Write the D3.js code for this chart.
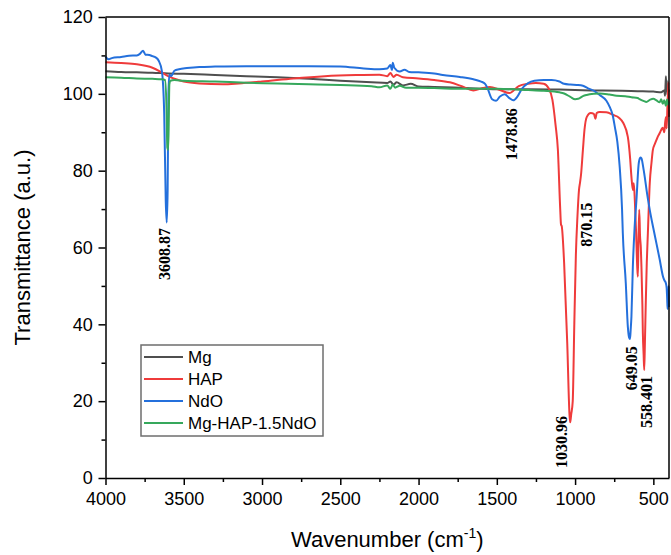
<!DOCTYPE html>
<html><head><meta charset="utf-8">
<script src="https://cdn.jsdelivr.net/npm/d3@7"></script>
<style>
html,body{margin:0;padding:0;background:#fff;}
svg{display:block;}
</style></head>
<body><svg id="chart" width="671" height="555"></svg>
<script>
// ---------- DATA ----------
const seriesNames = ["Mg", "HAP", "NdO", "Mg-HAP-1.5NdO"];
const seriesColors = ["#4f4f4f", "#ef3b3b", "#2470dc", "#36a85c"];

const mgWave = [4000,3900,3800,3700,3600,3500,3300,3100,2900,2700,2500,2300,2200,2180,2160,2140,2100,2050,2000,1900,1700,1500,1300,1100,900,700,600,500,450,430,425,420,417,414,411,408,405,402,400];
const mgT    = [105.9,105.7,105.6,105.5,105.3,105.2,104.9,104.6,104.3,103.9,103.4,103.0,102.8,103.2,102.4,103.0,102.2,102.6,101.9,101.8,101.5,101.2,101.2,101.1,100.9,100.8,100.7,100.6,100.4,100.9,99.5,104.6,101.5,103.5,99.8,101.2,100.5,101.0,100.6];

const hapWave = [4000,3900,3800,3700,3650,3600,3550,3500,3400,3250,3150,3000,2800,2600,2400,2250,2200,2180,2160,2140,2100,2000,1900,1800,1720,1650,1590,1545,1480,1420,1360,1300,1250,1200,1170,1145,1125,1110,1095,1090,1085,1070,1050,1035,1031,1025,1015,1005,995,985,975,968,962,950,940,925,900,880,870,862,843,800,756,720,692,663,648,640,631,625,618,610,603,599,595,590,585,580,576,570,567,562,558.4,554,548,542,535,523,512,503,490,480,470,459,450,440,430,425,419,415,410,406,403,400];
const hapT    = [108.2,108.0,107.7,106.8,105.8,104.6,103.8,103.2,102.7,102.5,102.7,103.2,104.0,104.6,104.9,105.0,104.6,105.4,104.4,105.0,104.3,104.0,103.6,103.0,101.9,100.9,101.5,101.8,101.0,100.2,102.0,102.6,102.8,102.6,101.5,98.5,92,85.5,70,66,65.5,56,35,16,14.5,16.5,20,40,58,68,75,77,79,85.4,90.6,94,95.0,94.8,93.5,95,95.3,95.2,94.5,93.8,92.4,88.8,83,78.4,75,76.7,72,63.7,55,52.4,62,69.8,63,60,55,45,37.7,32,28.1,35,46.3,56,63.7,76.7,82,85.4,87,88,89,89.8,90.6,91.2,90,92.4,94,91,97,101,103,94];

const ndoWave = [4000,3980,3960,3900,3850,3800,3780,3760,3745,3720,3700,3680,3660,3640,3625,3615,3609,3603,3598,3592,3580,3560,3530,3480,3400,3300,3100,2900,2700,2500,2350,2250,2200,2180,2170,2165,2155,2120,2090,2060,2000,1900,1845,1736,1650,1600,1575,1560,1530,1505,1480,1450,1420,1395,1370,1340,1300,1260,1200,1150,1100,1070,1030,990,950,920,880,843,800,779,760,746,730,715,700,695,676,663,655,649,645,640,631,620,608,593,583,576,565,555,540,523,500,480,460,438,430,420,415,412,409,407,404,402,400];
const ndoT    = [109.7,109.0,109.3,109.6,109.9,110.0,110.4,111.2,110.2,110.1,109.8,109.5,108.6,106,95,72,66.5,75,100,105,104.6,106.0,106.4,106.7,107.0,107.1,107.2,107.2,107.2,107.1,106.6,106.4,106.6,107.5,106.2,108.1,106.8,105.8,106.3,105.7,105.6,105.3,104.9,104.4,103.8,103.2,102.6,101.5,98.6,98.2,99.3,99.9,98.9,98.3,99.2,101.3,102.8,103.4,103.6,103.6,103.2,102.6,102.4,102.3,102.1,101.5,100.8,99.7,98.2,96.6,94.5,91.4,87.5,81,70,63.7,50.7,39.4,36.6,36.2,38.5,42,55,65,72.4,82,83.4,83.2,81,78.4,74,69.8,65,61,57,52.4,51.5,50.7,49.5,47,44,49,45,50,44.5];

const compWave = [4000,3900,3800,3700,3640,3620,3610,3605,3600,3596,3592,3585,3560,3500,3300,3100,2900,2700,2500,2300,2250,2200,2180,2165,2150,2120,2080,2000,1900,1700,1500,1300,1200,1100,1070,1030,1000,980,950,926,880,843,780,735,680,640,600,588,560,545,520,500,480,460,450,440,430,420,412,405,400];
const compT    = [104.3,104.2,104.0,103.9,103.8,103.6,96,86,85.4,93,102.5,103.4,103.6,103.4,103.2,102.9,102.7,102.5,102.3,102.0,101.7,102.2,101.3,102.4,101.6,102.1,101.6,101.6,101.5,101.3,101.3,101.0,100.8,100.4,100.1,99.2,98.6,98.7,99.4,99.7,100.0,100.1,99.8,99.5,99.4,99.1,98.9,98.6,98.1,97.9,98.5,98.7,98.3,97.8,98.6,97.4,98.3,96.9,98.5,97.2,98.0];

const peakLabels = ["3608.87", "1478.86", "870.15", "1030.96", "649.05", "558.401"];
const peakLabelWave = [3620, 1405, 925, 1085, 638, 542];
const peakLabelT = [58.3, 89.5, 65.9, 9.4, 28.6, 19.8];

const xTickValues = [4000,3500,3000,2500,2000,1500,1000,500];
const xMinorTicks = [3750,3250,2750,2250,1750,1250,750];
const yTickValues = [0,20,40,60,80,100,120];
const yMinorTicks = [10,30,50,70,90,110];

// ---------- CHART ----------
const svg = d3.select("#chart");
const L = 105.5, R = 669, T = 17, B = 478;
const x = d3.scaleLinear().domain([4000, 400]).range([L, R]);
const y = d3.scaleLinear().domain([0, 120]).range([B, T]);

const allSeries = [
  {wave: mgWave, t: mgT},
  {wave: hapWave, t: hapT},
  {wave: ndoWave, t: ndoT},
  {wave: compWave, t: compT}
];

const line = d3.line().x(d => x(d[0])).y(d => y(d[1])).curve(d3.curveMonotoneX);
const gLines = svg.append("g");
[0,1,2,3].forEach(i => {
  const s = allSeries[i];
  const pts = s.wave.map((w, k) => [w, s.t[k]]);
  gLines.append("path").datum(pts)
    .attr("d", line)
    .attr("fill", "none")
    .attr("stroke", seriesColors[i])
    .attr("stroke-width", 2)
    .attr("stroke-linejoin", "round");
});

// frame (top and right)
svg.append("line").attr("x1", L).attr("x2", R).attr("y1", T).attr("y2", T).attr("stroke", "#000").attr("stroke-width", 1.5);
svg.append("line").attr("x1", R).attr("x2", R).attr("y1", T).attr("y2", B).attr("stroke", "#000").attr("stroke-width", 1.5);

// axes
const xAxis = svg.append("g").attr("transform", `translate(0,${B})`)
  .call(d3.axisBottom(x).tickValues(xTickValues).tickSize(7).tickSizeOuter(0).tickFormat(d3.format("d")));
svg.append("g").attr("transform", `translate(0,${B})`)
  .call(d3.axisBottom(x).tickValues(xMinorTicks).tickSize(4).tickSizeOuter(0).tickFormat(""))
  .select(".domain").remove();
const yAxis = svg.append("g").attr("transform", `translate(${L},0)`)
  .call(d3.axisLeft(y).tickValues(yTickValues).tickSize(7).tickSizeOuter(0));
svg.append("g").attr("transform", `translate(${L},0)`)
  .call(d3.axisLeft(y).tickValues(yMinorTicks).tickSize(4).tickSizeOuter(0).tickFormat(""))
  .select(".domain").remove();

svg.selectAll(".domain").attr("stroke", "#000").attr("stroke-width", 1.5);
svg.selectAll(".tick line").attr("stroke", "#000").attr("stroke-width", 1.5);
xAxis.selectAll("text").attr("font-family", "Liberation Sans, Arial, sans-serif").attr("font-size", 18).attr("fill", "#000").attr("dy", "0.95em");
yAxis.selectAll("text").attr("font-family", "Liberation Sans, Arial, sans-serif").attr("font-size", 18).attr("fill", "#000").attr("dx", "-0.15em");

// axis titles
svg.append("text").attr("x", (L + R) / 2).attr("y", 547)
  .attr("text-anchor", "middle").attr("font-family", "Liberation Sans, Arial, sans-serif").attr("font-size", 22)
  .call(t => {
    t.append("tspan").text("Wavenumber (cm");
    t.append("tspan").attr("font-size", 14).attr("dy", -9).text("-1");
    t.append("tspan").attr("dy", 9).text(")");
  });
svg.append("text").attr("transform", `translate(30,${(T + B) / 2}) rotate(-90)`)
  .attr("text-anchor", "middle").attr("font-family", "Liberation Sans, Arial, sans-serif").attr("font-size", 22)
  .text("Transmittance (a.u.)");

// peak labels
peakLabels.forEach((lab, i) => {
  const px = x(peakLabelWave[i]), py = y(peakLabelT[i]);
  svg.append("text").attr("transform", `translate(${px},${py}) rotate(-90)`)
    .attr("text-anchor", "middle").attr("dominant-baseline", "central")
    .attr("font-family", "Liberation Serif, Times New Roman, serif").attr("font-weight", "bold")
    .attr("font-size", 16).attr("fill", "#000").text(lab);
});

// legend
const lg = svg.append("g");
lg.append("rect").attr("x", 141).attr("y", 345).attr("width", 182).attr("height", 91)
  .attr("fill", "#fff").attr("stroke", "#6e6e6e").attr("stroke-width", 1.5);
seriesNames.forEach((n, i) => {
  const yy = 357 + i * 22;
  lg.append("line").attr("x1", 144).attr("x2", 183).attr("y1", yy).attr("y2", yy)
    .attr("stroke", seriesColors[i]).attr("stroke-width", 2);
  lg.append("text").attr("x", 188).attr("y", yy).attr("dy", "0.36em")
    .attr("font-family", "Liberation Sans, Arial, sans-serif").attr("font-size", 17).attr("fill", "#000").text(n);
});
</script></body></html>
